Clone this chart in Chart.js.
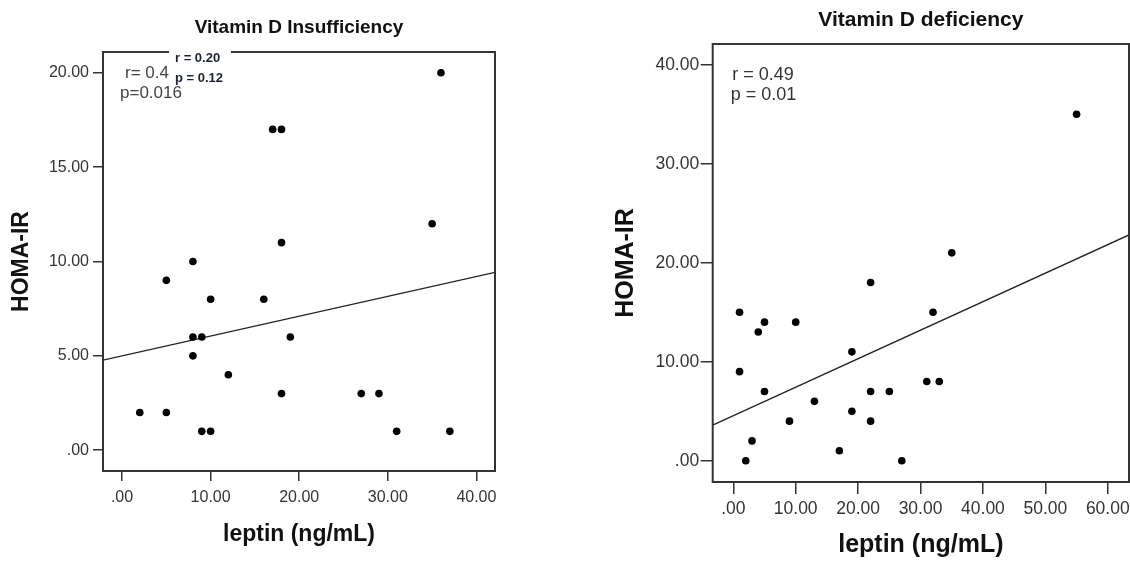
<!DOCTYPE html>
<html>
<head>
<meta charset="utf-8">
<script src="https://cdn.jsdelivr.net/npm/chart.js@4.4.1/dist/chart.umd.min.js"></script>
<style>
  body { margin: 0; background: #fff; width: 1130px; height: 565px; position: relative; overflow: hidden; }
  canvas { position: absolute; top: 0; }
</style>
</head>
<body>
<canvas id="insuf" width="560" height="565" style="left:0"></canvas>
<canvas id="defic" width="570" height="565" style="left:560px"></canvas>
<script>
// Vitamin D insufficiency group
const INSUF_LEPTIN = [36, 17, 18, 35, 18, 8, 5, 10, 16, 8, 9, 19, 8, 12, 2, 5, 18, 27, 29, 9, 10, 31, 37];
const INSUF_HOMA   = [20, 17, 17, 12, 11, 10, 9, 8, 8, 6, 6, 6, 5, 4, 2, 2, 3, 3, 3, 1, 1, 1, 1];
const INSUF_FIT = { intercept: 5.0, slope: 0.105 };
const INSUF_X_TICKS = [0, 10, 20, 30, 40];
const INSUF_X_LABELS = ['.00', '10.00', '20.00', '30.00', '40.00'];
const INSUF_Y_TICKS = [0, 5, 10, 15, 20];
const INSUF_Y_LABELS = ['.00', '5.00', '10.00', '15.00', '20.00'];

// Vitamin D deficiency group
const DEFIC_LEPTIN = [55, 35, 22, 1, 32, 5, 10, 4, 19, 1, 31, 33, 5, 22, 25, 13, 19, 9, 22, 3, 2, 17, 27];
const DEFIC_HOMA   = [35, 21, 18, 15, 15, 14, 14, 13, 11, 9, 8, 8, 7, 7, 7, 6, 5, 4, 4, 2, 0, 1, 0];
const DEFIC_FIT = { intercept: 4.55, slope: 0.288 };
const DEFIC_X_TICKS = [0, 10, 20, 30, 40, 50, 60];
const DEFIC_X_LABELS = ['.00', '10.00', '20.00', '30.00', '40.00', '50.00', '60.00'];
const DEFIC_Y_TICKS = [0, 10, 20, 30, 40];
const DEFIC_Y_LABELS = ['.00', '10.00', '20.00', '30.00', '40.00'];

const FONT = "'Liberation Sans', Arial, sans-serif";
const INK = '#333';

// box around the plot area + the r/p notes
const framePlugin = {
  id: 'frame',
  afterDraw(chart, args, opts) {
    const { ctx, chartArea: a } = chart;
    ctx.save();
    ctx.strokeStyle = INK;
    ctx.lineWidth = 2;
    ctx.strokeRect(a.left, a.top, a.right - a.left, a.bottom - a.top);
    ctx.textBaseline = 'middle';
    ctx.textAlign = 'left';
    (opts.notes || []).forEach(n => {
      if (n.box) {
        ctx.fillStyle = '#fff';
        ctx.fillRect(a.left + n.dx, a.top + n.dy, n.w, n.h);
        return;
      }
      ctx.font = n.font;
      ctx.fillStyle = n.color;
      ctx.fillText(n.text, a.left + n.dx, a.top + n.dy);
    });
    ctx.restore();
  }
};

function points(xs, ys) {
  return xs.map((x, i) => ({ x, y: ys[i] }));
}

function makeChart(id, c) {
  const fitLine = [c.xMin, c.xMax].map(x => ({ x, y: c.fit.intercept + c.fit.slope * x }));
  return new Chart(document.getElementById(id), {
    type: 'scatter',
    data: {
      datasets: [
        {
          data: points(c.xs, c.ys),
          pointRadius: 3.8,
          pointBackgroundColor: '#000',
          pointBorderWidth: 0
        },
        {
          data: fitLine,
          showLine: true,
          pointRadius: 0,
          borderColor: '#222',
          borderWidth: 1.3
        }
      ]
    },
    options: {
      responsive: false,
      animation: false,
      events: [],
      layout: { autoPadding: false, padding: { left: 0, right: c.padRight, top: 0, bottom: 0 } },
      plugins: {
        legend: { display: false },
        tooltip: { enabled: false },
        title: {
          display: true,
          text: c.title,
          fullSize: false,
          color: '#111',
          font: { family: FONT, size: c.titleSize, weight: 'bold' },
          padding: c.titlePad
        },
        frame: { notes: c.notes }
      },
      scales: {
        x: {
          type: 'linear',
          min: c.xMin,
          max: c.xMax,
          afterBuildTicks: s => { s.ticks = c.xTicks.map(v => ({ value: v })); },
          afterFit: s => { s.height = c.xAxisH; s.paddingLeft = 0; s.paddingRight = 0; },
          border: { display: false },
          grid: { drawOnChartArea: false, drawTicks: true, tickLength: c.xTickLen, color: INK, lineWidth: 1.5 },
          ticks: {
            color: INK,
            padding: c.xTickPad,
            maxRotation: 0,
            font: { family: FONT, size: c.tickSize },
            callback: v => c.xLabels[c.xTicks.indexOf(v)]
          },
          title: {
            display: true,
            text: 'leptin (ng/mL)',
            color: '#111',
            font: { family: FONT, size: c.axisSize, weight: 'bold' },
            padding: { top: 0, bottom: c.xTitlePad }
          }
        },
        y: {
          type: 'linear',
          min: c.yMin,
          max: c.yMax,
          afterBuildTicks: s => { s.ticks = c.yTicks.map(v => ({ value: v })); },
          afterFit: s => { s.width = c.yAxisW; s.paddingTop = 0; s.paddingBottom = 0; },
          border: { display: false },
          grid: { drawOnChartArea: false, drawTicks: true, tickLength: c.yTickLen, color: INK, lineWidth: 1.5 },
          ticks: {
            color: INK,
            padding: c.yTickPad,
            font: { family: FONT, size: c.tickSize },
            callback: v => c.yLabels[c.yTicks.indexOf(v)]
          },
          title: {
            display: true,
            text: 'HOMA-IR',
            color: '#111',
            font: { family: FONT, size: c.axisSize, weight: 'bold' },
            padding: { top: c.yTitlePad, bottom: 0 }
          }
        }
      }
    },
    plugins: [framePlugin]
  });
}

makeChart('insuf', {
  title: 'Vitamin D Insufficiency',
  xs: INSUF_LEPTIN, ys: INSUF_HOMA, fit: INSUF_FIT,
  xMin: -2.15, xMax: 42.1, yMin: -1.1, yMax: 21.1,
  xTicks: INSUF_X_TICKS, xLabels: INSUF_X_LABELS,
  yTicks: INSUF_Y_TICKS, yLabels: INSUF_Y_LABELS,
  padRight: 65, titleSize: 19, titlePad: { top: 16.6, bottom: 12.6 },
  axisSize: 23, tickSize: 16,
  xAxisH: 94, xTickLen: 10, xTickPad: 6.5, xTitlePad: 16.2,
  yAxisW: 103, yTickLen: 10, yTickPad: 4, yTitlePad: 8,
  notes: [
    { text: 'r= 0.4', dx: 22, dy: 21, font: '17px ' + FONT, color: '#444' },
    { text: 'p=0.016', dx: 17, dy: 41, font: '17px ' + FONT, color: '#444' },
    { box: true, dx: 66, dy: -14, w: 62, h: 48 },
    { text: 'r = 0.20', dx: 72, dy: 6, font: 'bold 13px ' + FONT, color: '#1c2230' },
    { text: 'p = 0.12', dx: 72, dy: 26, font: 'bold 13px ' + FONT, color: '#1c2230' }
  ]
});

makeChart('defic', {
  title: 'Vitamin D deficiency',
  xs: DEFIC_LEPTIN, ys: DEFIC_HOMA, fit: DEFIC_FIT,
  xMin: -3.3, xMax: 63.4, yMin: -2.15, yMax: 42.1,
  xTicks: DEFIC_X_TICKS, xLabels: DEFIC_X_LABELS,
  yTicks: DEFIC_Y_TICKS, yLabels: DEFIC_Y_LABELS,
  padRight: 1, titleSize: 21, titlePad: { top: 7.4, bottom: 11.4 },
  axisSize: 25, tickSize: 17.5,
  xAxisH: 83, xTickLen: 12, xTickPad: 4.7, xTitlePad: 5,
  yAxisW: 152.7, yTickLen: 12, yTickPad: 1.5, yTitlePad: 51,
  notes: [
    { text: 'r = 0.49', dx: 19.5, dy: 31, font: '18px ' + FONT, color: '#333' },
    { text: 'p = 0.01', dx: 18, dy: 51, font: '18px ' + FONT, color: '#333' }
  ]
});
</script>
</body>
</html>
